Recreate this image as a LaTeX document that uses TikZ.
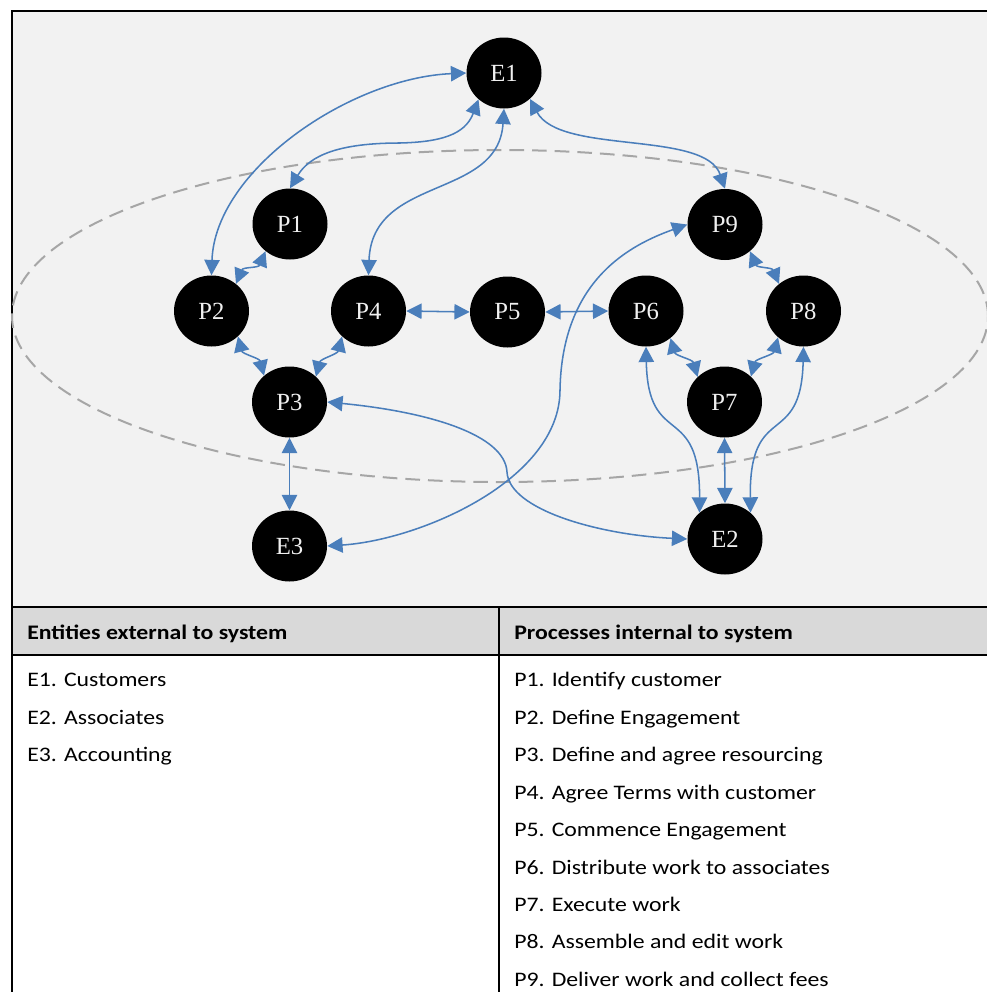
\documentclass[tikz,border=0pt]{standalone}
\usepackage{fontspec}
\setmainfont{Liberation Serif}
\newfontfamily\tabfont[FakeStretch=1.15]{Carlito}
\usetikzlibrary{arrows.meta,shapes.geometric}
\definecolor{flowblue}{RGB}{74,126,187}
\definecolor{panelgray}{RGB}{242,242,242}
\definecolor{headgray}{RGB}{217,217,217}
\definecolor{ringgray}{RGB}{166,166,166}
\definecolor{labelwhite}{RGB}{240,240,240}
\tikzset{
  proc/.style={ellipse, fill=black, draw=none, minimum width=56.25pt,
    minimum height=53.25pt, inner sep=0pt, text=labelwhite,
    font=\fontsize{18.5}{20}\selectfont},
  flow/.style={draw=flowblue, line width=1.15pt,
    {Triangle[length=11.5pt,width=11.5pt]}-{Triangle[length=11.5pt,width=11.5pt]}},
  cell/.style={anchor=base west, inner sep=0pt,
    font=\tabfont\fontsize{15.5}{18}\selectfont},
  headcell/.style={anchor=base west, inner sep=0pt,
    font=\tabfont\bfseries\fontsize{15.5}{18}\selectfont},
  tablerule/.style={draw=black, line width=1.5pt},
}
\begin{document}
\begin{tikzpicture}[x=0.75pt,y=0.75pt]
\useasboundingbox (0,0) rectangle (987,-992);
\clip (0,0) rectangle (987,-992);

% panel and table frame
\fill[white] (0,0) rectangle (987,-992);
\fill[panelgray] (12,-11) rectangle (1000,-607);
\fill[headgray] (12,-607) rectangle (1000,-655);
\draw[tablerule] (1000,-11) -- (12,-11) -- (12,-1000);
\draw[tablerule] (12,-607) -- (1000,-607);
\draw[tablerule] (12,-655) -- (1000,-655);
\draw[tablerule] (498.5,-607) -- (498.5,-1000);

% system boundary
\draw[ringgray, line width=1.5pt, dash pattern=on 11pt off 6pt]
  (500,-316) ellipse [x radius=488, y radius=166];

% entities and processes
\node[proc] (E1) at (504,-73) {E1};
\node[proc] (P1) at (290,-224) {P1};
\node[proc] (P9) at (725,-224.5) {P9};
\node[proc] (P2) at (211.5,-311) {P2};
\node[proc] (P4) at (368.5,-311) {P4};
\node[proc] (P5) at (507.5,-312) {P5};
\node[proc] (P6) at (646,-311) {P6};
\node[proc] (P8) at (803.5,-311) {P8};
\node[proc] (P3) at (289.5,-402) {P3};
\node[proc] (P7) at (724.5,-402) {P7};
\node[proc] (E3) at (289.5,-546) {E3};
\node[proc] (E2) at (725,-539) {E2};

% waypoints of the long connectors
\coordinate (bendP1) at (400,-143);
\coordinate (bendE2) at (507,-472);
\coordinate (bendE3) at (560,-390);

% flows from E1
\draw[flow] (E1.west) .. controls (350,-78) and (215,-170) .. (P2.north);
\draw[flow] (E1.-134) .. controls (465,-135) and (440,-142) .. (bendP1)
  .. controls (340,-143) and (310,-155) .. (P1.north);
\draw[flow] (E1.south) .. controls (498,-200) and (372,-175) .. (P4.north);
\draw[flow] (E1.-45) .. controls (560,-155) and (705,-130) .. (P9.north);

% short links between neighbouring processes
\draw[flow] (P1.-132) .. controls +(-7,-17) and +(7,17) .. (P2.48);
\draw[flow] (P2.-44) .. controls +(4.5,-17.5) and +(-4.5,17.5) .. (P3.134);
\draw[flow] (P4.-136) .. controls +(-4.5,-17.5) and +(4.5,17.5) .. (P3.44);
\draw[flow] (P9.-47) .. controls +(7,-16.5) and +(-7,16.5) .. (P8.132);
\draw[flow] (P6.-48) .. controls +(5,-17.5) and +(-5,17.5) .. (P7.137);
\draw[flow] (P8.-134) .. controls +(-4.7,-17.5) and +(4.7,17.5) .. (P7.44);

% straight links
\draw[flow] (P4.east) -- (P5.west);
\draw[flow] (P5.east) -- (P6.west);
\draw[flow] (P3.south) -- (E3.north);
\draw[flow] (P7.south) -- (E2.north);

% long crossing links
\draw[flow] (P3.east) .. controls (430,-412) and (505,-435) .. (bendE2)
  .. controls (509,-510) and (600,-535) .. (E2.west);
\draw[flow] (P9.west) .. controls (630,-245) and (562,-280) .. (bendE3)
  .. controls (560,-480) and (420,-540) .. (E3.east);
\draw[flow] (P6.south) .. controls (648,-450) and (700,-400) .. (E2.134);
\draw[flow] (P8.south) .. controls (801,-450) and (749,-400) .. (E2.46);

% legend table
\node[headcell] (hE) at (27,-639) {Entities external to system};
\node[headcell] (hP) at (514,-639) {Processes internal to system};
\node[cell] (tE1) at (27,-686.7) {E1. Customers};
\node[cell] (tE2) at (27,-724.2) {E2. Associates};
\node[cell] (tE3) at (27,-761.6) {E3. Accounting};
\node[cell] (tP1) at (514,-686.7) {P1. Identify customer};
\node[cell] (tP2) at (514,-724.2) {P2. Define Engagement};
\node[cell] (tP3) at (514,-761.6) {P3. Define and agree resourcing};
\node[cell] (tP4) at (514,-799.1) {P4. Agree Terms with customer};
\node[cell] (tP5) at (514,-836.5) {P5. Commence Engagement};
\node[cell] (tP6) at (514,-874) {P6. Distribute work to associates};
\node[cell] (tP7) at (514,-911.4) {P7. Execute work};
\node[cell] (tP8) at (514,-948.9) {P8. Assemble and edit work};
\node[cell] (tP9) at (514,-986.3) {P9. Deliver work and collect fees};
\end{tikzpicture}
\end{document}
